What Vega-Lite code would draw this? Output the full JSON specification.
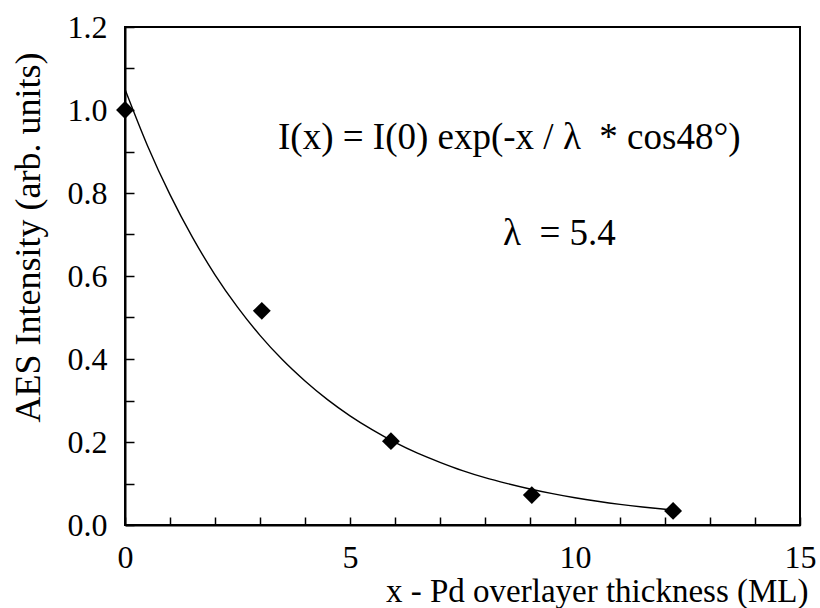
{
  "$schema": "https://vega.github.io/schema/vega-lite/v6.json",
  "width": 675,
  "height": 498,
  "autosize": {"type": "none"},
  "padding": {"left": 125, "top": 27, "right": 20, "bottom": 83},
  "background": "white",
  "config": {
    "font": "Liberation Serif",
    "view": {"stroke": "black", "strokeWidth": 2},
    "axis": {
      "domainColor": "black",
      "domainWidth": 2,
      "tickColor": "black",
      "tickWidth": 1.5,
      "grid": false,
      "labelFont": "Liberation Serif",
      "labelFontSize": 32,
      "titleFont": "Liberation Serif",
      "labelColor": "black",
      "titleColor": "black",
      "titleFontWeight": "normal",
      "labelOverlap": false,
      "labelFlush": false
    }
  },
  "datasets": {
    "measured": [
      {"thickness": 0.0, "intensity": 1.0},
      {"thickness": 3.04, "intensity": 0.516},
      {"thickness": 5.91, "intensity": 0.202},
      {"thickness": 9.04, "intensity": 0.072},
      {"thickness": 12.18, "intensity": 0.034}
    ],
    "fit": [
      {"thickness": 0.0, "intensity": 1.05},
      {"thickness": 0.5, "intensity": 0.914},
      {"thickness": 1.0, "intensity": 0.796},
      {"thickness": 1.5, "intensity": 0.693},
      {"thickness": 2.0, "intensity": 0.603},
      {"thickness": 2.5, "intensity": 0.525},
      {"thickness": 3.0, "intensity": 0.457},
      {"thickness": 3.5, "intensity": 0.398},
      {"thickness": 4.0, "intensity": 0.347},
      {"thickness": 4.5, "intensity": 0.302},
      {"thickness": 5.0, "intensity": 0.263},
      {"thickness": 5.5, "intensity": 0.229},
      {"thickness": 6.0, "intensity": 0.199},
      {"thickness": 6.5, "intensity": 0.173},
      {"thickness": 7.0, "intensity": 0.151},
      {"thickness": 7.5, "intensity": 0.131},
      {"thickness": 8.0, "intensity": 0.114},
      {"thickness": 8.5, "intensity": 0.0997},
      {"thickness": 9.0, "intensity": 0.0868},
      {"thickness": 9.5, "intensity": 0.0755},
      {"thickness": 10.0, "intensity": 0.0658},
      {"thickness": 10.5, "intensity": 0.0573},
      {"thickness": 11.0, "intensity": 0.0498},
      {"thickness": 11.5, "intensity": 0.0434},
      {"thickness": 12.0, "intensity": 0.0378},
      {"thickness": 12.2, "intensity": 0.0358}
    ]
  },
  "layer": [
    {
      "data": {"name": "fit"},
      "mark": {"type": "line", "color": "black", "strokeWidth": 1.4, "interpolate": "monotone"},
      "encoding": {
        "x": {
          "field": "thickness",
          "type": "quantitative",
          "scale": {"domain": [0, 15], "nice": false, "zero": false},
          "axis": {
            "title": "x - Pd overlayer thickness (ML)",
            "titleFontSize": 33,
            "titleAlign": "right",
            "titleAnchor": "end",
            "titleX": 683,
            "titlePadding": 2,
            "values": [0, 1, 2, 3, 4, 5, 6, 7, 8, 9, 10, 11, 12, 13, 14, 15],
            "labelExpr": "datum.value % 5 == 0 ? format(datum.value, 'd') : ''",
            "labelFontSize": 32,
            "tickSize": -8,
            "labelPadding": 25
          }
        },
        "y": {
          "field": "intensity",
          "type": "quantitative",
          "scale": {"domain": [0, 1.2], "nice": false},
          "axis": {
            "title": "AES Intensity (arb. units)",
            "titleFontSize": 36,
            "titleAnchor": "middle",
            "titleY": 210,
            "titlePadding": 20,
            "values": [0, 0.05, 0.1, 0.15, 0.2, 0.25, 0.3, 0.35, 0.4, 0.45, 0.5, 0.55, 0.6, 0.65, 0.7, 0.75, 0.8, 0.85, 0.9, 0.95, 1.0, 1.05, 1.1, 1.15, 1.2],
            "labelExpr": "abs(datum.value * 5 - round(datum.value * 5)) < 0.001 ? format(datum.value, '.1f') : ''",
            "labelFontSize": 32,
            "tickSize": -9,
            "labelPadding": 27
          }
        }
      }
    },
    {
      "data": {"name": "measured"},
      "mark": {"type": "point", "shape": "diamond", "filled": true, "color": "black", "size": 320, "opacity": 1},
      "encoding": {
        "x": {"field": "thickness", "type": "quantitative"},
        "y": {"field": "intensity", "type": "quantitative"}
      }
    },
    {
      "data": {"values": [{"label": "I(x) = I(0) exp(-x / λ\u00a0 * cos48°)"}]},
      "mark": {"type": "text", "fontSize": 37, "font": "Liberation Serif", "color": "black", "align": "left", "baseline": "middle"},
      "encoding": {
        "text": {"field": "label"},
        "x": {"datum": 3.4},
        "y": {"datum": 0.932}
      }
    },
    {
      "data": {"values": [{"label": "λ\u00a0 = 5.4"}]},
      "mark": {"type": "text", "fontSize": 37, "font": "Liberation Serif", "color": "black", "align": "left", "baseline": "middle"},
      "encoding": {
        "text": {"field": "label"},
        "x": {"datum": 8.4},
        "y": {"datum": 0.701}
      }
    }
  ]
}
